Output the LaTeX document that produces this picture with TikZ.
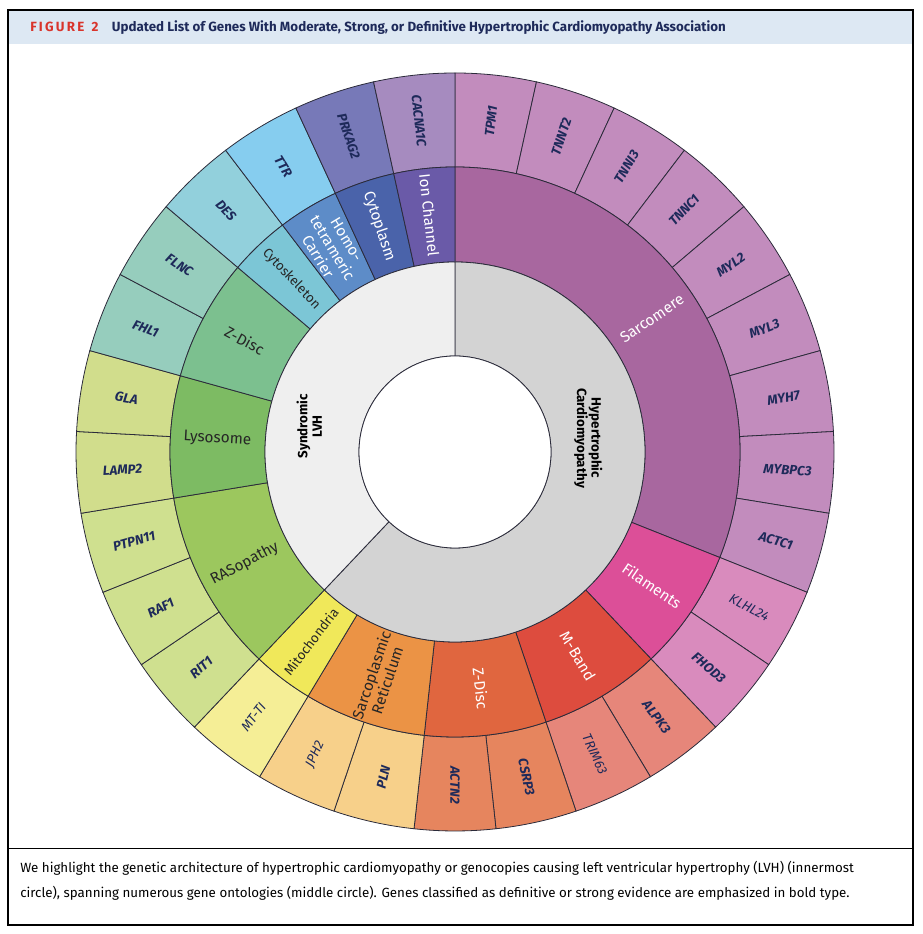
\documentclass[tikz,border=0pt]{standalone}
\usepackage{fontspec}
\setmainfont{Fira Sans}
\usetikzlibrary{positioning}

\definecolor{linec}{HTML}{2B2B3A}
\definecolor{navy}{HTML}{1E2A5A}
\definecolor{figred}{HTML}{D9342B}
\definecolor{headbg}{HTML}{DDE8F3}
\definecolor{hcmgray}{HTML}{D3D3D3}
\definecolor{lvhgray}{HTML}{EFEFEF}
% middle ring
\definecolor{msarc}{HTML}{A8679F}
\definecolor{mfil}{HTML}{DC4F98}
\definecolor{mmband}{HTML}{DD4C3E}
\definecolor{mzdisc}{HTML}{E0663F}
\definecolor{msr}{HTML}{EB9345}
\definecolor{mmito}{HTML}{F0E85A}
\definecolor{mras}{HTML}{9CC75E}
\definecolor{mlyso}{HTML}{7DBB63}
\definecolor{mzdiscb}{HTML}{7CC08F}
\definecolor{mcyto}{HTML}{7CC6D6}
\definecolor{mhomo}{HTML}{5D8CC8}
\definecolor{mplasm}{HTML}{4A63AA}
\definecolor{mion}{HTML}{6A5AA8}
% outer ring
\definecolor{gsarc}{HTML}{C28CBD}
\definecolor{gfil}{HTML}{D98BBD}
\definecolor{gmband}{HTML}{E6867A}
\definecolor{gzdisc}{HTML}{E6855E}
\definecolor{gsr}{HTML}{F7D08A}
\definecolor{gmito}{HTML}{F5EE96}
\definecolor{gras}{HTML}{CFE08F}
\definecolor{glyso}{HTML}{D1DD8C}
\definecolor{gzdiscb}{HTML}{96CDBD}
\definecolor{gcyto}{HTML}{92D0DC}
\definecolor{ghomo}{HTML}{86CDEF}
\definecolor{gplasm}{HTML}{7779B8}
\definecolor{gion}{HTML}{A68BBF}

% fill colour, inner radius, outer radius, from angle, to angle
\newcommand{\sect}[5]{%
  \filldraw[fill=#1,draw=linec,line width=0.6pt] ([shift={(#4:#3)}]O) arc[start angle=#4,end angle=#5,radius=#3]
    -- ([shift={(#5:#2)}]O) arc[start angle=#5,end angle=#4,radius=#2] -- cycle;}
\newcommand{\narrow}[1]{{\fontsize{10}{11}\selectfont #1}}

\tikzset{
  geneb/.style={font=\fontsize{10}{10.5}\selectfont\bfseries\itshape,text=navy},
  gener/.style={font=\fontsize{10}{10.5}\selectfont\itshape,text=navy},
  ontol/.style={font=\fontsize{11.5}{12.5}\selectfont,align=center},
  rootlbl/.style={font=\fontsize{10}{11}\selectfont\bfseries,align=center,text=black}
}

\begin{document}
\begin{tikzpicture}[x=0.75pt,y=0.75pt]
\useasboundingbox (0,0) rectangle (922,934);

% frame and header
\draw[line width=0.8pt] (8,9) rectangle (913,924);
\fill[headbg] (9,890) rectangle (912,923);
\draw[line width=0.6pt] (8,86) -- (913,86);
\node[anchor=west,inner sep=0] (title) at (30,906)
  {\fontsize{10}{11}\selectfont\bfseries\textcolor{figred}{F\,I\,G\,U\,R\,E\;\;2}\quad\textcolor{navy}{Updated List of Genes With Moderate, Strong, or Definitive Hypertrophic Cardiomyopathy Association}};

\coordinate (O) at (455,482);

% outer ring: genes
\foreach \gname/\gcol/\gw [count=\k from 0] in {TPM1/gsarc/b,TNNT2/gsarc/b,TNNI3/gsarc/b,TNNC1/gsarc/b,MYL2/gsarc/b,MYL3/gsarc/b,MYH7/gsarc/b,MYBPC3/gsarc/b,ACTC1/gsarc/b,
  KLHL24/gfil/r,FHOD3/gfil/b,ALPK3/gmband/b,TRIM63/gmband/r,CSRP3/gzdisc/b,ACTN2/gzdisc/b,PLN/gsr/b,JPH2/gsr/r,MT-TI/gmito/r,
  RIT1/gras/b,RAF1/gras/b,PTPN11/gras/b,LAMP2/glyso/b,GLA/glyso/b,FHL1/gzdiscb/b,FLNC/gzdiscb/b,DES/gcyto/b,TTR/ghomo/b,PRKAG2/gplasm/b,CACNA1C/gion/b}{
  \pgfmathsetmacro\aa{90-12.4138*\k}
  \pgfmathsetmacro\ab{90-12.4138*(\k+1)}
  \pgfmathsetmacro\am{90-12.4138*(\k+0.5)}
  \pgfmathsetmacro\rot{cos(\am)>-0.01 ? \am : \am+180}
  \sect{\gcol}{285}{379}{\ab}{\aa}
  \node[gene\gw,rotate=\rot] (g\k) at ([shift={(\am:333)}]O) {\gname};
}

% middle ring: ontologies
\foreach \mname/\mcol/\tcol/\from/\to [count=\j] in {Sarcomere/msarc/white/0/9,Filaments/mfil/white/9/11,M-Band/mmband/white/11/13,Z-Disc/mzdisc/white/13/15,
  {Sarcoplasmic\\Reticulum}/msr/black!85/15/17,{\narrow{Mitochondria}}/mmito/black!85/17/18,RASopathy/mras/black!85/18/21,Lysosome/mlyso/black!85/21/23,
  Z-Disc/mzdiscb/black!85/23/25,{\narrow{Cytoskeleton}}/mcyto/black!85/25/26,{Homo-\\tetrameric\\Carrier}/mhomo/white/26/27,Cytoplasm/mplasm/white/27/28,{Ion Channel}/mion/white/28/29}{
  \pgfmathsetmacro\aa{90-12.4138*\from}
  \pgfmathsetmacro\ab{90-12.4138*\to}
  \pgfmathsetmacro\am{90-12.4138*(\from+\to)/2}
  \pgfmathsetmacro\rot{cos(\am)>-0.01 ? \am : \am+180}
  \sect{\mcol}{190}{285}{\ab}{\aa}
  \node[ontol,text=\tcol,rotate=\rot] (m\j) at ([shift={(\am:238)}]O) {\mname};
}

% inner ring
\sect{hcmgray}{96}{190}{-133.45}{90}
\sect{lvhgray}{96}{190}{90}{226.55}
\filldraw[fill=white,draw=linec,line width=0.6pt] (O) circle[radius=96];
\node[rootlbl,rotate=-90] (hcm) at ([shift={(6:134)}]O) {Hypertrophic\\Cardiomyopathy};
\node[rootlbl,rotate=90] (lvh) at ([shift={(170:148)}]O) {Syndromic\\LVH};

% caption
\node[anchor=west,inner sep=0,font=\fontsize{10}{11}\selectfont] (cap1) at (20,66) {We highlight the genetic architecture of hypertrophic cardiomyopathy or genocopies causing left ventricular hypertrophy (LVH) (innermost};
\node[anchor=west,inner sep=0,font=\fontsize{10}{11}\selectfont] (cap2) at (20,41) {circle), spanning numerous gene ontologies (middle circle). Genes classified as definitive or strong evidence are emphasized in bold type.};
\end{tikzpicture}
\end{document}
